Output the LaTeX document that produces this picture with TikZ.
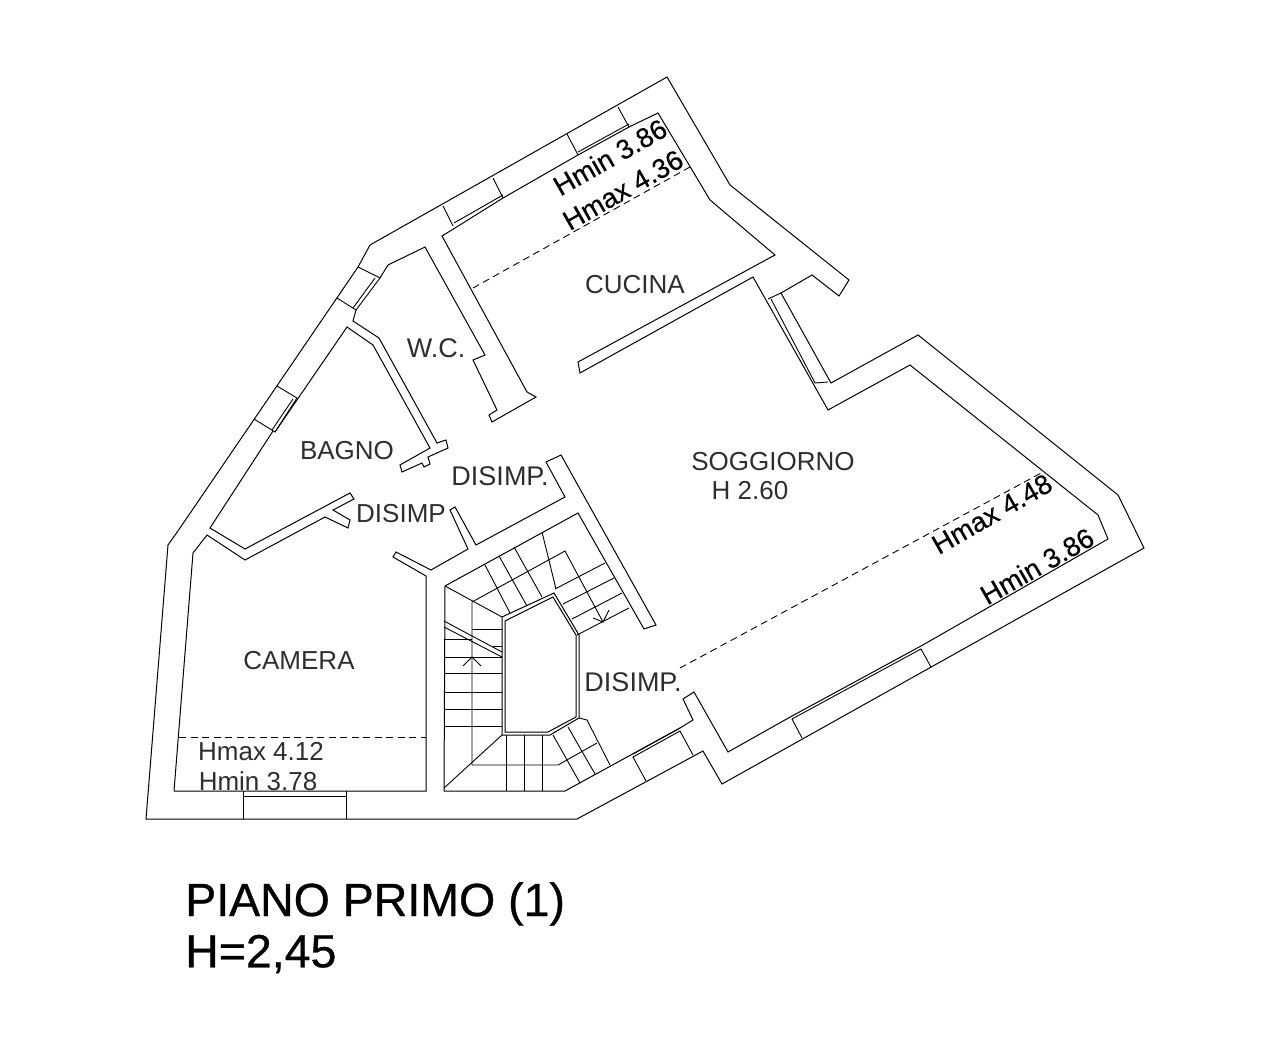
\documentclass[tikz,border=0pt]{standalone}
\usepackage{fontspec}
\setmainfont{Liberation Sans}
\newfontfamily\heavyfont[FakeBold=0.35]{Liberation Sans}
\newfontfamily\titlefont[FakeBold=0.7]{Liberation Sans}
\tikzset{
wall/.style={draw=black,line width=1pt,line join=miter},
thinwall/.style={draw=black,line width=0.9pt},
hline/.style={draw=black,line width=0.9pt,dash pattern=on 7pt off 4.5pt},
roomlabel/.style={align=center,inner sep=0pt,text=black!82,font=\fontsize{26}{26}\selectfont},
slantlabel/.style={inner sep=0pt,rotate=29.7,font=\heavyfont\fontsize{27.5}{27.5}\selectfont},
titlelabel/.style={anchor=west,inner sep=0pt,font=\titlefont\fontsize{46.5}{46.5}\selectfont}
}
\begin{document}
\begin{tikzpicture}[x=1pt,y=-1pt]
\useasboundingbox (0,0) rectangle (1277,1064);
\path [wall] (146,819) -- (577,819) -- (703,751) -- (722,784) -- (1144,548) -- (1118,495) -- (918,335) -- (831,383) -- (781,293) -- (812,275) -- (839,296) -- (849,280) -- (730,185) -- (667,77) -- (370,245) -- (358,267) -- (180,528) -- (168,545) -- cycle;
\path [wall] (174,791) -- (426,791) -- (426,576) -- (393,557) -- (396,552) -- (431,570) -- (468,549) -- (450,510) -- (455,507) -- (476,545) -- (565,497) -- (546,462) -- (561,455) -- (656,625) -- (644,629) -- (578,513) -- (445,586) -- (444,791) -- (565,791) -- (680,728) -- (693,720) -- (683,699) -- (694,692) -- (728,752) -- (792,716) -- (921,646) -- (1108,539) -- (1098,515) -- (910,365) -- (828,410) -- (753,277) -- (580,373) -- (578,362) -- (775,255) -- (710,200) -- (658,113) -- (629,127) -- (578,155) -- (503,198) -- (455,228) -- (442,236) -- (527,392) -- (536,397) -- (492,422) -- (489,415) -- (497,410) -- (473,360) -- (485,355) -- (425,247) -- (388,265) -- (380,278);
\path [wall] (356,310) -- (353,321) -- (379,338) -- (437,443) -- (446,440) -- (448,448) -- (428,457) -- (430,464) -- (424,467) -- (422,463) -- (402,472) -- (400,465) -- (430,448) -- (373,345) -- (347,327) -- (275,432);
\path [wall] (273,431) -- (210,528) -- (245,549) -- (350,493) -- (354,499) -- (333,510) -- (350,520) -- (348,528) -- (325,517) -- (245,560) -- (207,535) -- (193,553) -- (174,791);
\path [thinwall] (358,267) -- (380,278) -- (356,310) -- (337,298);
\path [thinwall] (375,278) -- (353,308);
\path [thinwall] (277,386) -- (297,398) -- (275,432) -- (254,419);
\path [thinwall] (293,399) -- (272,430);
\path [thinwall] (443,206) -- (453,226);
\path [thinwall] (493,178) -- (503,198);
\path [thinwall] (454,223) -- (503,195);
\path [thinwall] (567,134) -- (578,155);
\path [thinwall] (618,107) -- (629,127);
\path [thinwall] (578,152) -- (629,124);
\path [thinwall] (243,791) -- (243,819);
\path [thinwall] (346,791) -- (346,819);
\path [thinwall] (243,796) -- (346,796);
\path [thinwall] (646,781) -- (633,757) -- (680,731) -- (693,755);
\path [thinwall] (633,754) -- (680,728);
\path [thinwall] (802,738) -- (792,719) -- (921,649) -- (931,667);
\path [thinwall] (768,299) -- (781,293);
\path [thinwall] (771,299) -- (815,383) -- (828,382);
\path [hline] (473,288) -- (690,167);
\path [hline] (680,668) -- (1043,472);
\path [hline] (179,737) -- (426,737);
\path [wall] (502,617) -- (554,593) -- (579,635) -- (579,718) -- (550,735) -- (502,735) -- cycle;
\path [wall] (505,621) -- (553,597) -- (576,635) -- (576,717) -- (548,732) -- (505,732) -- cycle;
\path [thinwall] (445,586) -- (502,617);
\path [thinwall] (444,788) -- (502,735);
\path [thinwall] (472,602) -- (472,765) -- (558,765) -- (597,743);
\path [thinwall] (472,602) -- (565,551) -- (603,622);
\path [thinwall] (593,618) -- (603,622) -- (609,610);
\path [thinwall] (463,666) -- (472,657) -- (481,666);
\path [thinwall] (444,621) -- (502,652);
\path [thinwall] (444,627) -- (502,657);
\path [thinwall] (472,629) -- (502,629);
\path [thinwall] (444,639) -- (472,639);
\path [thinwall] (493,646) -- (502,646);
\foreach \tready in {657,673,692,709,726}
\path [thinwall] (444,\tready) -- (502,\tready);
\foreach \treadx in {506,524,542}
\path [thinwall] (\treadx,735) -- (\treadx,791);
\path [thinwall] (553,735) -- (580,783);
\path [thinwall] (568,727) -- (595,774);
\path [thinwall] (579,718) -- (587,720) -- (610,765);
\path [thinwall] (485,565) -- (510,613);
\path [thinwall] (499,556) -- (527,606);
\path [thinwall] (514,547) -- (542,597);
\path [thinwall] (542,532) -- (556,589);
\path [thinwall] (555,589) -- (605,563);
\path [thinwall] (563,604) -- (614,578);
\path [thinwall] (572,619) -- (622,593);
\path [thinwall] (577,635) -- (629,608);
\node[roomlabel] (cucina) at (635,285) {CUCINA};
\node[roomlabel,font=\fontsize{27}{27}\selectfont] (wc) at (436,348) {W.C.};
\node[roomlabel] (bagno) at (347,451) {BAGNO};
\node[roomlabel,font=\fontsize{27}{27}\selectfont] (disimpa) at (500,476) {DISIMP.};
\node[roomlabel] (disimpb) at (401,514) {DISIMP};
\node[roomlabel,font=\fontsize{27}{27}\selectfont] (disimpc) at (633,682) {DISIMP.};
\node[roomlabel] (soggiorno) at (773,462) {SOGGIORNO};
\node[roomlabel] (altezza) at (750,491) {H 2.60};
\node[roomlabel] (camera) at (299,661) {CAMERA};
\node[roomlabel] (cameramax) at (261,752) {Hmax 4.12};
\node[roomlabel] (cameramin) at (258,781) {Hmin 3.78};
\node[slantlabel] (cucinamin) at (610,157) {Hmin 3.86};
\node[slantlabel] (cucinamax) at (623,190) {Hmax 4.36};
\node[slantlabel] (soggiornomax) at (992,514) {Hmax 4.48};
\node[slantlabel] (soggiornomin) at (1037,566) {Hmin 3.86};
\node[titlelabel] (piano) at (185,904) {PIANO PRIMO (1)};
\node[titlelabel] (quota) at (185,954) {H=2,45};
\end{tikzpicture}
\end{document}
